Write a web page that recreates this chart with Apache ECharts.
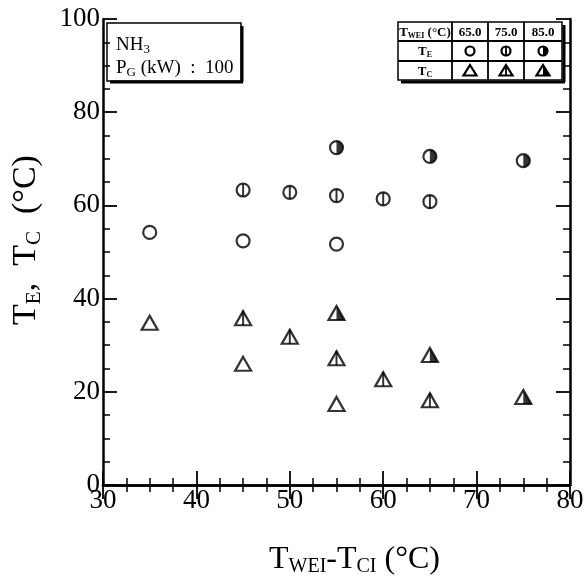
<!DOCTYPE html>
<html>
<head>
<meta charset="utf-8">
<script src="https://cdn.jsdelivr.net/npm/echarts@6/dist/echarts.min.js"></script>
<style>
  html, body { margin: 0; padding: 0; background: #fff; }
  #chart { width: 586px; height: 581px; }
</style>
</head>
<body>
<div id="chart"></div>
<script>
// T_E points (circles) by T_WEI
var teOpen = [[35, 54.2], [45, 52.4], [55, 51.7]];                       // 65.0
var teLine = [[45, 63.3], [50, 62.8], [55, 62.1], [60, 61.4], [65, 60.8]]; // 75.0
var teHalf = [[55, 72.4], [65, 70.5], [75, 69.6]];                       // 85.0
// T_C points (triangles)
var tcOpen = [[35, 34.8], [45, 26.0], [55, 17.4]];
var tcLine = [[45, 35.8], [50, 31.8], [55, 27.2], [60, 22.7], [65, 18.2]];
var tcHalf = [[55, 36.9], [65, 27.9], [75, 18.9]];

var tweiLabels = ['65.0', '75.0', '85.0'];

var serif = 'Liberation Serif';
var chart = echarts.init(document.getElementById('chart'));

var halfCircle = 'path://M0,0 A10,10 0 0 1 0,20 Z';
var halfTri = 'path://M0,0 L10,20 L0,20 Z';

function axisBase(show, margin) {
  return {
    axisLine: { show: true, lineStyle: { color: '#000', width: 2.5 } },
    axisTick: { show: true, inside: true, length: 14, lineStyle: { color: '#000', width: 1.8 } },
    minorTick: { show: true, splitNumber: 4, length: 7, lineStyle: { color: '#000', width: 1.5 } },
    splitLine: { show: false },
    axisLabel: { show: show, color: '#000', fontFamily: serif, fontSize: 27, margin: margin || 3 }
  };
}

var outline = { color: '#fff', borderColor: '#000', borderWidth: 2.2 };
var black = { color: '#000' };

// table graphics
var tx = [398, 452, 488, 524, 562];
var ty = [22, 41, 61, 80];
var tableEls = [];
tableEls.push({ type: 'rect', shape: { x: tx[0], y: ty[0], width: tx[4] - tx[0], height: ty[3] - ty[0] },
  style: { fill: '#fff', stroke: '#000', lineWidth: 1.5 } });
tableEls.push({ type: 'line', shape: { x1: tx[4] + 2, y1: ty[0] + 3, x2: tx[4] + 2, y2: ty[3] + 2 }, style: { stroke: '#000', lineWidth: 3 } });
tableEls.push({ type: 'line', shape: { x1: tx[0] + 3, y1: ty[3] + 2, x2: tx[4] + 3, y2: ty[3] + 2 }, style: { stroke: '#000', lineWidth: 3 } });
for (var i = 1; i < 4; i++) {
  tableEls.push({ type: 'line', shape: { x1: tx[i], y1: ty[0], x2: tx[i], y2: ty[3] }, style: { stroke: '#000', lineWidth: 1.8 } });
}
for (var j = 1; j < 3; j++) {
  tableEls.push({ type: 'line', shape: { x1: tx[0], y1: ty[j], x2: tx[4], y2: ty[j] }, style: { stroke: '#000', lineWidth: 1.8 } });
}
function cellText(c, r, rich, txt) {
  tableEls.push({ type: 'text', x: (tx[c] + tx[c + 1]) / 2, y: (ty[r] + ty[r + 1]) / 2 + 1,
    style: { text: txt, rich: rich, fontFamily: serif, fontSize: 13, fontWeight: 'bold', fill: '#000', align: 'center', verticalAlign: 'middle' } });
}
var smallRich = {
  m: { fontFamily: serif, fontSize: 13, fontWeight: 'bold' },
  s: { fontFamily: serif, fontSize: 8, fontWeight: 'bold', verticalAlign: 'bottom', padding: [6, 0, 0, 0] }
};
cellText(0, 0, smallRich, '{m|T}{s|WEI}{m| (°C)}');
for (var k = 0; k < 3; k++) cellText(k + 1, 0, smallRich, '{m|' + tweiLabels[k] + '}');
cellText(0, 1, smallRich, '{m|T}{s|E}');
cellText(0, 2, smallRich, '{m|T}{s|C}');
for (var k2 = 0; k2 < 3; k2++) {
  var cx = (tx[k2 + 1] + tx[k2 + 2]) / 2;
  var cy1 = (ty[1] + ty[2]) / 2;
  var cy2 = (ty[2] + ty[3]) / 2;
  tableEls.push({ type: 'circle', shape: { cx: cx, cy: cy1, r: 4.5 }, style: { fill: '#fff', stroke: '#000', lineWidth: 2.2 } });
  tableEls.push({ type: 'polygon', shape: { points: [[cx, cy2 - 5.5], [cx + 6.5, cy2 + 5], [cx - 6.5, cy2 + 5]] }, style: { fill: '#fff', stroke: '#000', lineWidth: 2.2 } });
  if (k2 === 1) {
    tableEls.push({ type: 'line', shape: { x1: cx, y1: cy1 - 4.5, x2: cx, y2: cy1 + 4.5 }, style: { stroke: '#000', lineWidth: 1.8 } });
    tableEls.push({ type: 'line', shape: { x1: cx, y1: cy2 - 5.5, x2: cx, y2: cy2 + 5 }, style: { stroke: '#000', lineWidth: 1.8 } });
  }
  if (k2 === 2) {
    tableEls.push({ type: 'sector', shape: { cx: cx, cy: cy1, r: 4.5, r0: 0, startAngle: -Math.PI / 2, endAngle: Math.PI / 2 }, style: { fill: '#000' } });
    tableEls.push({ type: 'polygon', shape: { points: [[cx, cy2 - 5.5], [cx + 6.5, cy2 + 5], [cx, cy2 + 5]] }, style: { fill: '#000' } });
  }
}

var boxRich = {
  m: { fontFamily: serif, fontSize: 19 },
  s: { fontFamily: serif, fontSize: 13, verticalAlign: 'bottom', padding: [9, 0, 0, 0] }
};
var boxEls = [
  { type: 'rect', shape: { x: 107, y: 23, width: 134, height: 58 }, style: { fill: '#fff', stroke: '#000', lineWidth: 1.5 } },
  { type: 'line', shape: { x1: 242, y1: 26, x2: 242, y2: 82 }, style: { stroke: '#000', lineWidth: 3 } },
  { type: 'line', shape: { x1: 110, y1: 82, x2: 243, y2: 82 }, style: { stroke: '#000', lineWidth: 3 } },
  { type: 'text', x: 116, y: 45, style: { text: '{m|NH}{s|3}', verticalAlign: 'middle', rich: boxRich } },
  { type: 'text', x: 116, y: 68, style: { text: '{m|P}{s|G}{m| (kW)  :  100}', verticalAlign: 'middle', rich: boxRich } }
];

var xNameRich = {
  m: { fontFamily: serif, fontSize: 32, color: '#000' },
  s: { fontFamily: serif, fontSize: 20, color: '#000', verticalAlign: 'bottom', padding: [15, 0, 0, 0] }
};
var yNameRich = {
  m: { fontFamily: serif, fontSize: 34, color: '#000' },
  s: { fontFamily: serif, fontSize: 21, color: '#000', verticalAlign: 'bottom', padding: [16, 0, 0, 0] }
};

chart.setOption({
  animation: false,
  backgroundColor: '#fff',
  grid: { left: 103, right: 16, top: 19, bottom: 96, containLabel: false, outerBoundsMode: 'none' },
  xAxis: [
    Object.assign(axisBase(true, 2), {
      type: 'value', min: 30, max: 80, interval: 10, position: 'bottom',
      name: '{m|T}{s|WEI}{m|-T}{s|CI}{m| (°C)}', nameLocation: 'middle', nameGap: 57,
      nameTextStyle: { rich: xNameRich, padding: [0, 0, 0, 36] }
    }),
    Object.assign(axisBase(false), { type: 'value', min: 30, max: 80, interval: 10, position: 'top' })
  ],
  yAxis: [
    Object.assign(axisBase(true, 3), {
      type: 'value', min: 0, max: 100, interval: 20, position: 'left',
      name: '{m|T}{s|E}{m|,  T}{s|C}{m|  (°C)}', nameLocation: 'middle', nameGap: 58, nameRotate: 90,
      nameTextStyle: { rich: yNameRich, padding: [0, 0, 0, 24] }
    }),
    Object.assign(axisBase(false), { type: 'value', min: 0, max: 100, interval: 20, position: 'right' })
  ],
  graphic: boxEls.concat(tableEls),
  series: [
    { type: 'scatter', data: teOpen.concat(teLine, teHalf), symbol: 'circle', symbolSize: 13, itemStyle: outline, z: 3 },
    { type: 'scatter', data: teLine, symbol: 'rect', symbolSize: [2, 13], itemStyle: black, z: 4 },
    { type: 'scatter', data: teHalf, symbol: halfCircle, symbolSize: [6.5, 13], symbolOffset: [3.25, 0], itemStyle: black, z: 4 },
    { type: 'scatter', data: tcOpen.concat(tcLine, tcHalf), symbol: 'triangle', symbolSize: [16, 14], itemStyle: outline, z: 3 },
    { type: 'scatter', data: tcLine, symbol: 'rect', symbolSize: [2, 14], itemStyle: black, z: 4 },
    { type: 'scatter', data: tcHalf, symbol: halfTri, symbolSize: [8, 14], symbolOffset: [4, 0], itemStyle: black, z: 4 }
  ]
});
</script>
</body>
</html>
